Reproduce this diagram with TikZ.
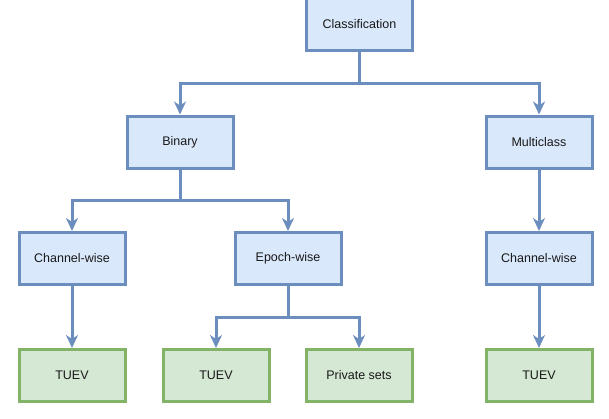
\documentclass[tikz,border=0pt]{standalone}
\usepackage{fontspec}
\setmainfont{Liberation Sans}
\usetikzlibrary{arrows.meta}
\definecolor{bfill}{HTML}{DAE8FC}
\definecolor{bdraw}{HTML}{6C8EBF}
\definecolor{gfill}{HTML}{D5E8D4}
\definecolor{gdraw}{HTML}{82B366}
\begin{document}
\begin{tikzpicture}[x=1pt,y=-1pt,
  box/.style={rectangle, minimum width=106pt, minimum height=52pt, line width=3pt, inner sep=0pt,
    font=\fontsize{12.5pt}{14pt}\selectfont, text=black!90},
  bluebox/.style={box, fill=bfill, draw=bdraw},
  greenbox/.style={box, fill=gfill, draw=gdraw},
  arr/.style={draw=bdraw, line width=3pt, -{Stealth[length=13pt,width=12pt,inset=4pt]}}
]
\useasboundingbox (0,0) rectangle (609,418);
\node[bluebox] (class) at (359.5,24.5) {Classification};
\node[bluebox] (binary) at (180,142) {Binary};
\node[bluebox] (multi) at (539,142) {Multiclass};
\node[bluebox] (cw1) at (72,258.5) {Channel-wise};
\node[bluebox] (epoch) at (288,258.5) {Epoch-wise};
\node[bluebox] (cw2) at (539,258.5) {Channel-wise};
\node[greenbox] (t1) at (72,375.5) {TUEV};
\node[greenbox] (t2) at (216,375.5) {TUEV};
\node[greenbox] (priv) at (359,375.5) {Private sets};
\node[greenbox] (t3) at (539,375.5) {TUEV};

\coordinate (j1) at (359.5,83);
\coordinate (j2) at (180,200);
\coordinate (j3) at (288,317);

\draw[draw=bdraw, line width=3pt] (class.south) -- (j1);
\draw[arr] (j1) -| (binary.north);
\draw[arr] (j1) -| (multi.north);
\draw[draw=bdraw, line width=3pt] (binary.south) -- (j2);
\draw[arr] (j2) -| (cw1.north);
\draw[arr] (j2) -| (epoch.north);
\draw[arr] (multi.south) -- (cw2.north);
\draw[arr] (cw1.south) -- (t1.north);
\draw[draw=bdraw, line width=3pt] (epoch.south) -- (j3);
\draw[arr] (j3) -| (t2.north);
\draw[arr] (j3) -| (priv.north);
\draw[arr] (cw2.south) -- (t3.north);
\end{tikzpicture}
\end{document}
